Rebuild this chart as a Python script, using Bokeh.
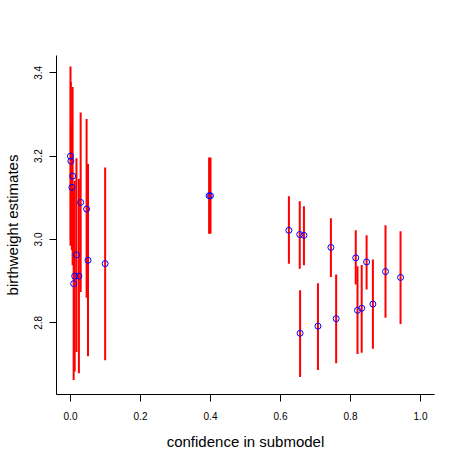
from bokeh.plotting import figure
from bokeh.models import Range1d, FixedTicker, PrintfTickFormatter, ColumnDataSource
from bokeh.embed import file_html
from bokeh.resources import INLINE

# confidence in submodel (x), birthweight estimate (y), interval bounds
confidence = [0.000, 0.001, 0.006, 0.004, 0.029, 0.046, 0.017, 0.050, 0.099,
              0.012, 0.024, 0.009, 0.396, 0.400,
              0.624, 0.655, 0.667, 0.744, 0.815, 0.846, 0.900, 0.943,
              0.656, 0.707, 0.759, 0.820, 0.832, 0.864]
estimate = [3.200, 3.188, 3.152, 3.125, 3.089, 3.073, 2.963, 2.950, 2.942,
            2.912, 2.912, 2.894, 3.105, 3.105,
            3.022, 3.012, 3.010, 2.981, 2.956, 2.946, 2.923, 2.909,
            2.775, 2.792, 2.810, 2.830, 2.835, 2.845]
lower = [2.985, 2.998, 2.938, 2.975, 2.874, 2.860, 2.730, 2.720, 2.710,
         2.683, 2.679, 2.663, 3.014, 3.014,
         2.942, 2.930, 2.938, 2.910, 2.892, 2.880, 2.812, 2.797,
         2.670, 2.687, 2.703, 2.725, 2.728, 2.738]
upper = [3.415, 3.378, 3.366, 3.275, 3.305, 3.289, 3.195, 3.181, 3.173,
         3.141, 3.145, 3.125, 3.197, 3.197,
         3.104, 3.092, 3.080, 3.051, 3.022, 3.010, 3.034, 3.020,
         2.878, 2.895, 2.916, 2.936, 2.939, 2.952]

x_ticks = [0.0, 0.2, 0.4, 0.6, 0.8, 1.0]
y_ticks = [2.8, 3.0, 3.2, 3.4]

src = ColumnDataSource(dict(x=confidence, y=estimate, lo=lower, hi=upper))

FONT = "Liberation Sans"

p = figure(width=460, height=460, output_backend="svg", toolbar_location=None,
           x_range=Range1d(-0.04, 1.04), y_range=Range1d(2.628, 3.4415),
           min_border_left=54, min_border_right=26, min_border_top=55,
           min_border_bottom=66)
p.outline_line_color = None
p.xgrid.visible = False
p.ygrid.visible = False
p.background_fill_color = "white"
p.border_fill_color = "white"

p.segment(x0="x", y0="lo", x1="x", y1="hi", source=src,
          line_color="#ff0000", line_width=2)
p.scatter(x="x", y="y", source=src, marker="circle", size=6,
          fill_color=None, line_color="#0000ff", line_width=1)

for ax, ticks in ((p.xaxis[0], x_ticks), (p.yaxis[0], y_ticks)):
    ax.ticker = FixedTicker(ticks=ticks)
    ax.formatter = PrintfTickFormatter(format="%.1f")
    ax.minor_tick_line_color = None
    ax.major_tick_in = 0
    ax.major_tick_out = 7
    ax.axis_line_color = "#000000"
    ax.major_tick_line_color = "#000000"
    ax.major_label_text_font = FONT
    ax.major_label_text_font_size = "10px"
    ax.major_label_text_color = "#000000"
    ax.axis_label_text_font = FONT
    ax.axis_label_text_font_size = "15px"
    ax.axis_label_text_font_style = "normal"
    ax.axis_label_text_color = "#000000"

p.xaxis.major_label_standoff = 10
p.xaxis.axis_label = "confidence in submodel"
p.xaxis.axis_label_standoff = 10
p.yaxis.major_label_standoff = 7
p.yaxis.axis_label = "birthweight estimates"
p.yaxis.axis_label_standoff = 11
p.yaxis.major_label_orientation = "vertical"

open("out.html", "w").write(file_html(p, INLINE))
